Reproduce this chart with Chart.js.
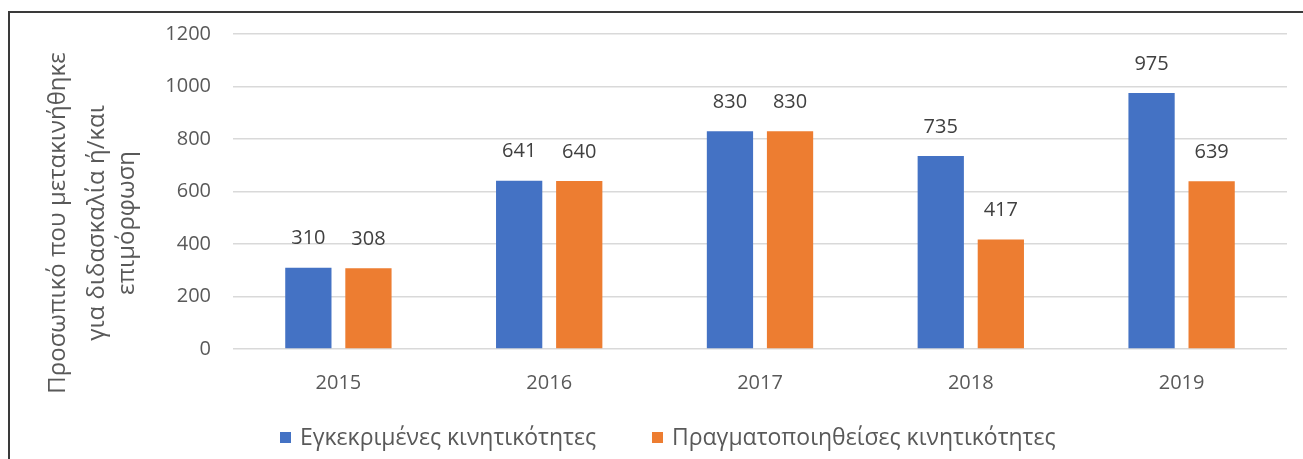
<!DOCTYPE html>
<html lang="el">
<head>
<meta charset="UTF-8">
<title>Κινητικότητες</title>
<style>
  html, body { margin: 0; padding: 0; background: #fff; }
  .wrap { position: relative; width: 1303px; height: 459px; overflow: hidden; }
  .frame { position: absolute; left: 8px; top: 11px; right: -5px; bottom: -5px;
           border-top: 2px solid #3a3a3a; border-left: 2px solid #3a3a3a; }
  canvas { position: absolute; left: 0; top: 0; }
</style>
</head>
<body>
<div class="wrap">
  <canvas id="myChart" width="1303" height="459"></canvas>
  <div class="frame"></div>
</div>
<script src="https://cdn.jsdelivr.net/npm/chart.js"></script>
<script>
  var years = ['2015', '2016', '2017', '2018', '2019'];
  var egkekrimenes = [310, 641, 830, 735, 975];
  var pragmatopoiithises = [308, 640, 830, 417, 639];
  var seriesNames = ['Εγκεκριμένες κινητικότητες', 'Πραγματοποιηθείσες κινητικότητες'];
  var seriesColors = ['#4472C4', '#ED7D31'];
  var yTitle = ['Προσωπικό που μετακινήθηκε', 'για διδασκαλία ή/και', 'επιμόρφωση'];
  var fontFam = '"Open Sans", "Noto Sans", sans-serif';

  // values above the bars
  const barValues = {
    id: 'barValues',
    afterDatasetsDraw(chart) {
      const ctx = chart.ctx;
      ctx.save();
      ctx.font = '20px ' + fontFam;
      ctx.fillStyle = '#404040';
      ctx.textAlign = 'center';
      ctx.textBaseline = 'middle';
      chart.data.datasets.forEach((ds, i) => {
        chart.getDatasetMeta(i).data.forEach((bar, j) => {
          ctx.fillText(ds.data[j], bar.x, bar.y - 29);
        });
      });
      ctx.restore();
    }
  };

  // y axis title (3 lines)
  const yTitlePlugin = {
    id: 'yTitlePlugin',
    afterDraw(chart) {
      const ctx = chart.ctx;
      ctx.save();
      ctx.font = '24px ' + fontFam;
      ctx.fillStyle = '#595959';
      ctx.textAlign = 'center';
      ctx.textBaseline = 'middle';
      ctx.translate(0, 223);
      ctx.rotate(-Math.PI / 2);
      var xs = [58, 97, 127];
      yTitle.forEach((t, i) => ctx.fillText(t, 0, xs[i]));
      ctx.restore();
    }
  };

  // legend under the axis
  const legendPlugin = {
    id: 'legendPlugin',
    afterDraw(chart) {
      const ctx = chart.ctx;
      ctx.save();
      ctx.font = '23px ' + fontFam;
      ctx.textBaseline = 'middle';
      var boxX = [280, 652];
      chart.data.datasets.forEach((ds, i) => {
        ctx.fillStyle = ds.backgroundColor;
        ctx.fillRect(boxX[i], 432, 11, 11);
        ctx.fillStyle = '#595959';
        ctx.fillText(ds.label, boxX[i] + 20, 438);
      });
      ctx.restore();
    }
  };

  const ctx = document.getElementById('myChart');
  new Chart(ctx, {
    type: 'bar',
    data: {
      labels: years,
      datasets: [{
        label: seriesNames[0],
        data: egkekrimenes,
        backgroundColor: seriesColors[0],
        categoryPercentage: 0.57,
        barPercentage: 0.77
      },
      {
        label: seriesNames[1],
        data: pragmatopoiithises,
        backgroundColor: seriesColors[1],
        categoryPercentage: 0.57,
        barPercentage: 0.77
      }]
    },
    options: {
      responsive: false,
      animation: false,
      layout: { padding: { left: 8, right: 16, top: 33, bottom: 50 } },
      plugins: {
        tooltip: { enabled: false },
        legend: { display: false }
      },
      scales: {
        x: {
          grid: { display: false },
          border: { display: false },
          ticks: { color: '#595959', padding: 14, font: { family: fontFam, size: 20 } }
        },
        y: {
          min: 0,
          max: 1200,
          afterFit: s => { s.width = 225; },
          grid: { color: '#d9d9d9', lineWidth: 1.5, drawTicks: false },
          border: { display: false },
          ticks: {
            stepSize: 200,
            color: '#595959',
            padding: 22,
            font: { family: fontFam, size: 20 },
            callback: v => String(v)
          }
        }
      }
    },
    plugins: [barValues, yTitlePlugin, legendPlugin]
  });
</script>
</body>
</html>
